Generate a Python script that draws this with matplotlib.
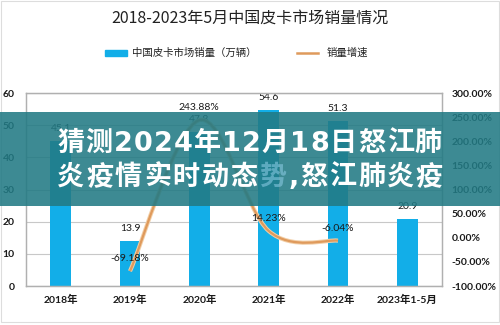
import matplotlib
matplotlib.use("Agg")
import matplotlib.pyplot as plt
from matplotlib.patches import Rectangle, PathPatch
from matplotlib.lines import Line2D
from matplotlib.path import Path
import numpy as np

categories = ["2018年", "2019年", "2020年", "2021年", "2022年", "2023年1-5月"]
sales = [45.1, 13.9, 47.8, 54.6, 51.3, 20.9]
growth_idx = [1, 2, 3, 4]
growth = [-69.18, 243.88, 14.23, -6.04]
left_ticks = [0, 10, 20, 30, 40, 50, 60]
right_ticks = [-100, -50, 0, 50, 100, 150, 200, 250, 300]
title = "2018-2023年5月中国皮卡市场销量情况"
legend_labels = ["中国皮卡市场销量（万辆）", "销量增速"]
overlay_line1 = [("猜测2024年12月18日怒江肺", "w")]
overlay_line2 = [("炎疫情实时动态", "w"), ("势", "g"), (",", "w"), ("怒江肺炎疫", "w")]

W, H = 500, 325
CJK = ["Noto Sans CJK SC", "DejaVu Sans"]
NUM = ["Lato", "Noto Sans CJK SC", "DejaVu Sans"]
BAR = "#12aee8"
LINE = "#df9a5c"
TXT = "#1a1a1a"

fig = plt.figure(figsize=(5, 3.25), dpi=100)
fig.patch.set_facecolor("white")

def fx(px):
    return px / W

def fy(py):
    return 1 - py / H

ax = fig.add_axes([fx(26), fy(286), fx(442) - fx(26), fy(93) - fy(286)])
ax2 = ax.twinx()

x = np.arange(len(categories))
ax.bar(x, sales, width=0.3, color=BAR, zorder=2)
ax.set_xlim(-0.5, len(categories) - 0.5)
ax.set_ylim(0, 60)
ax.set_yticks(left_ticks)
ax.set_xticks(x)
ax.set_xticklabels(categories, family=NUM, fontweight="bold", fontsize=7.5, color=TXT)
ax.tick_params(axis="both", length=0, pad=8)
ax.tick_params(axis="x", pad=6)
for lab in ax.get_yticklabels():
    lab.set_family(NUM); lab.set_fontweight("bold"); lab.set_fontsize(7.5); lab.set_color(TXT)
ax.grid(axis="y", color="#c8c8c8", linewidth=0.8, zorder=0)
ax.set_axisbelow(True)
for s in ax.spines.values():
    s.set_color("#b0b0b0"); s.set_linewidth(0.9)
for s in ax2.spines.values():
    s.set_color("#b0b0b0"); s.set_linewidth(0.9)

for xi, v in zip(x, sales):
    ax.annotate(f"{v}", (xi, v), xytext=(0, 9), textcoords="offset points",
                ha="center", va="center", fontsize=7.5, family=NUM, color=TXT, zorder=5)

ax2.set_ylim(-100, 300)
ax2.set_yticks(right_ticks)
ax2.set_yticklabels([f"{t:.2f}%" for t in right_ticks], family=NUM,
                    fontweight="bold", fontsize=7.5, color=TXT)
ax2.tick_params(axis="y", length=0, pad=7)

# smoothed line (Catmull-Rom -> cubic Bezier) through the growth points
pts = np.column_stack([growth_idx, growth]).astype(float)
verts = [tuple(pts[0])]
codes = [Path.MOVETO]
n = len(pts)
for i in range(n - 1):
    p0 = pts[i - 1] if i > 0 else pts[i]
    p1 = pts[i]
    p2 = pts[i + 1]
    p3 = pts[i + 2] if i + 2 < n else pts[i + 1]
    c1 = p1 + (p2 - p0) / 6.0
    c2 = p2 - (p3 - p1) / 6.0
    verts += [tuple(c1), tuple(c2), tuple(p2)]
    codes += [Path.CURVE4] * 3
ax2.add_patch(PathPatch(Path(verts, codes), fill=False, edgecolor="#f2cfa8",
                        linewidth=3.0, transform=ax2.transData, zorder=3))
ax2.add_patch(PathPatch(Path(verts, codes), fill=False, edgecolor=LINE,
                        linewidth=1.6, transform=ax2.transData, zorder=4))
for xi, v in zip(growth_idx, growth):
    ax2.annotate(f"{v:.2f}%", (xi, v), xytext=(0, 9), textcoords="offset points",
                 ha="center", va="center", fontsize=7.5, family=NUM, color=TXT, zorder=5)

# title and legend
fig.text(0.5, fy(18), title, ha="center", va="center", fontsize=11.5, family=CJK, color="#222222")
fig.patches.append(Rectangle((fx(105), fy(56)), fx(127) - fx(105), 6 / H,
                             transform=fig.transFigure, color=BAR))
fig.text(fx(132), fy(53), legend_labels[0], ha="left", va="center", fontsize=7.5,
         family=CJK, color="#222222", fontweight="medium")
fig.lines.append(Line2D([fx(297), fx(318)], [fy(53), fy(53)], transform=fig.transFigure,
                        color=LINE, linewidth=1.8))
fig.text(fx(327), fy(53), legend_labels[1], ha="left", va="center", fontsize=7.5,
         family=CJK, color="#222222", fontweight="medium")

# outer light frame
fig.patches.append(Rectangle((0.002, fy(322)), 0.996, fy(1) - fy(322), transform=fig.transFigure,
                             fill=False, edgecolor="#dddddd", linewidth=0.8))

# overlay band
fig.patches.append(Rectangle((0, fy(206)), 1, (206 - 112) / H, transform=fig.transFigure,
                             facecolor=(34 / 255, 122 / 255, 132 / 255), alpha=0.88,
                             edgecolor="none", zorder=10))

renderer = fig.canvas.get_renderer()
OVF = ["DejaVu Sans", "Noto Sans CJK SC"]
COLORS = {"w": ("white", 1.0), "g": ("#8fcde6", 0.55)}

def tracked_line(pieces, x0, x1, yc, size, zorder=12):
    chars = []
    for s, c in pieces:
        for ch in s:
            chars.append((ch, c))
    texts = []
    widths = []
    for ch, c in chars:
        col, al = COLORS[c]
        t = fig.text(0, fy(yc), ch, ha="left", va="center", fontsize=size, fontweight="bold",
                     family=OVF, color=col, alpha=al, zorder=zorder)
        texts.append(t)
        widths.append(t.get_window_extent(renderer).width)
    total = sum(widths)
    track = (x1 - x0 - total) / max(len(chars) - 1, 1)
    cx = x0
    for t, w in zip(texts, widths):
        t.set_x(fx(cx))
        cx += w + track
    return texts

tracked_line(overlay_line1, 57, 442, 144, 19.5)
tracked_line(overlay_line2, 57, 443, 178, 19.5)

fig.savefig("out.png", dpi=100)
